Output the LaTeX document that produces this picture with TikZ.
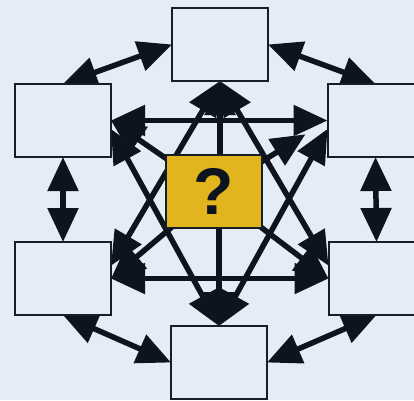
\documentclass[tikz,border=0pt]{standalone}
\usepackage{fontspec}
\setmainfont{Liberation Sans}
\usetikzlibrary{arrows.meta}
\pgfdeclarelayer{paperlayer}
\pgfdeclarelayer{links}
\pgfsetlayers{paperlayer,links,main}
\definecolor{paper}{RGB}{228,236,246}
\definecolor{frame}{RGB}{24,30,40}
\definecolor{ink}{RGB}{13,20,29}
\definecolor{gold}{RGB}{226,180,30}
\begin{document}
\begin{tikzpicture}[x=1pt,y=-1pt,
  box/.style={draw=frame, line width=2pt, fill=paper, minimum width=96pt,
    minimum height=73pt, inner sep=0pt, outer sep=0pt},
  hub/.style={box, fill=gold, font=\bfseries\fontsize{66}{66}\selectfont, text=ink},
  link/.style={draw=ink, line width=5.5pt},
  head/.tip={Triangle[length=34pt,width=30pt]},
  both/.style={link, head-head},
  one/.style={link, -head}]
  \begin{pgfonlayer}{paperlayer}
    \fill[paper] (0,0) rectangle (414,400);
  \end{pgfonlayer}
  \useasboundingbox (0,0) rectangle (414,400);

  % outer ring of boxes and the central hub
  \node[box] (t)  at (220,44.5)  {};
  \node[box] (ul) at (63,120.5)  {};
  \node[box] (ur) at (375.5,120.5) {};
  \node[box] (ll) at (63,278.5)  {};
  \node[box] (lr) at (376.5,278.5) {};
  \node[box] (b)  at (219,362.5) {};
  \node[hub] (q)  at (214,191.5) {?};

  \begin{pgfonlayer}{links}
    % ring connections
    \draw[both] (ul.north) -- (t.west);
    \draw[both] (t.east) -- (ur.north);
    \draw[both] (ul.south) -- (ll.north);
    \draw[both] (ur.south) -- (lr.north);
    \draw[both] (ll.south) -- (b.west);
    \draw[both] (lr.south) -- (b.east);
    % the two crossing triangles
    \draw[both] (ul.east) -- (ur.west);
    \draw[both] (ll.east) -- (lr.west);
    \draw[both] (t.south) -- (ll.15);
    \draw[both] (t.south) -- (lr.165);
    \draw[both] (b.north) -- (ul.-10);
    \draw[both] (b.north) -- (ur.190);
    % spokes from the hub
    \draw[one] (q.north -| t.south) -- (t.south);
    \draw[one] (q.south -| b.north) -- (b.north);
    \draw[one] (q.center) -- (ul.east);
    \draw[one, shorten >=26pt] (q.center) -- (ur.west);
    \draw[one] (q.center) -- (ll.east);
    \draw[one] (q.center) -- (lr.west);
  \end{pgfonlayer}
\end{tikzpicture}
\end{document}
